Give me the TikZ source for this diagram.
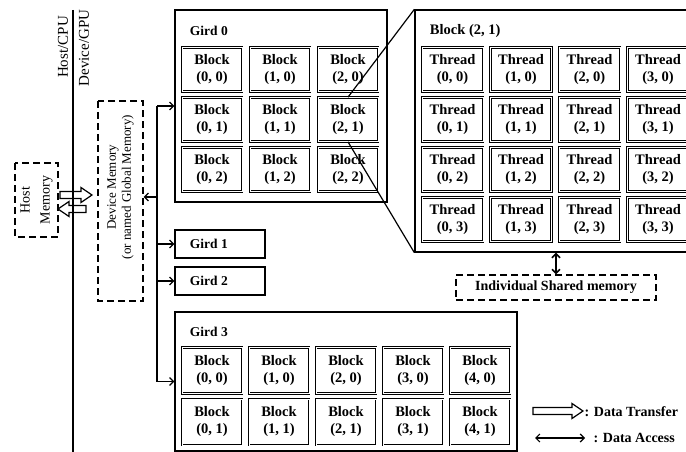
\documentclass[tikz,border=0pt]{standalone}
\usepackage{fontspec}
\setmainfont{Liberation Serif}
\usetikzlibrary{arrows.meta,positioning,calc}

\begin{document}
\begin{tikzpicture}[
    x=1pt, y=-1pt,
    line width=1.2pt,
    frame/.style={rectangle,draw,line width=1.3pt,inner sep=0pt},
    unit/.style={rectangle,draw,double,double distance=1pt,line width=0.7pt,
                 align=center,inner sep=0pt,minimum width=60pt,minimum height=44pt,
                 font=\fontsize{14.5}{17}\selectfont\bfseries},
    mem/.style={rectangle,draw,dash pattern=on 7pt off 4pt,line width=1.2pt,
                align=center,inner sep=0pt},
    lbl/.style={anchor=west,inner sep=0pt,font=\fontsize{13.5}{15}\selectfont\bfseries},
    side/.style={rotate=90,inner sep=0pt,align=center},
    acc/.style={-{Straight Barb[length=4pt,width=8pt]}},
    both/.style={{Straight Barb[length=4pt,width=8pt]}-{Straight Barb[length=4pt,width=8pt]}},
    % hollow transfer arrow, #1 = total length
    pics/fat/.style={code={
      \draw[line width=1.2pt,line join=miter]
        (0,-3.5) -- (#1-11,-3.5) -- (#1-11,-7.5) -- (#1,0) -- (#1-11,7.5)
        -- (#1-11,3.5) -- (0,3.5) -- cycle;}}
  ]
    \clip (0,0) rectangle (686,452);

    % host / device split
    \draw (73,10) -- (73,452);
    \node[side,font=\fontsize{15}{15}\selectfont] (cpu) at (63,47) {Host/CPU};
    \node[side,font=\fontsize{15}{15}\selectfont] (gpu) at (84,48) {Device/GPU};

    \node[mem,rotate=90,minimum width=74pt,minimum height=43pt,font=\fontsize{14}{20}\selectfont]
      (hmem) at (36.5,200) {Host\\Memory};
    \node[mem,rotate=90,minimum width=200pt,minimum height=45pt] (dmem) at (120.5,201) {};
    \node[side,font=\fontsize{13}{15}\selectfont] (dmemtxt) at ($(dmem.center)+(0,-14)$)
      {Device Memory\\(or named Global Memory)};

    % transfers between host and device memory
    \pic at (60,195) {fat=32};
    \pic[rotate=180] at (86,209) {fat=28};

    % grid 0
    \node[frame,minimum width=212pt,minimum height=192pt] (g0) at (281,106) {};
    \node[lbl] at ($(g0.north west)+(15,22)$) {Gird 0};
    \foreach \i in {0,1,2}
      \foreach \j in {0,1,2}
        \node[unit] (g0b\i\j) at ({212+68*\i},{69.5+50*\j}) {Block\\(\i, \j)};

    % block (2,1) opened up
    \node[frame,minimum width=285pt,minimum height=242pt] (blk) at (557.5,131) {};
    \node[lbl,font=\fontsize{14.5}{15}\selectfont\bfseries] at ($(blk.north west)+(15,22)$) {Block (2, 1)};
    \foreach \i in {0,...,3}
      \foreach \j in {0,...,3}
        \node[unit,minimum width=61pt] (t\i\j) at ({452.5+68.5*\i},{69.5+50*\j}) {Thread\\(\i, \j)};
    \draw (g0b21.north) -- (blk.north west);
    \draw (g0b21.south) -- (blk.south west);

    \node[mem,minimum width=200pt,minimum height=25pt,font=\fontsize{14}{15}\selectfont\bfseries]
      (smem) at (556,287.5) {Individual Shared memory};
    \draw[both,line width=1.6pt] (smem.north) -- (smem.north |- blk.south);

    % grids 1 and 2
    \node[frame,minimum width=90pt,minimum height=28pt] (g1) at (220,244) {};
    \node[lbl] at ($(g1.west)+(15,0)$) {Gird 1};
    \node[frame,minimum width=90pt,minimum height=28pt] (g2) at (220,281) {};
    \node[lbl] at ($(g2.west)+(15,0)$) {Gird 2};

    % grid 3
    \node[frame,minimum width=342pt,minimum height=139pt] (g3) at (346,381.5) {};
    \node[lbl] at ($(g3.north west)+(15,21)$) {Gird 3};
    \foreach \i in {0,...,4}
      \foreach \j in {0,1}
        \node[unit,minimum height=46pt] (g3b\i\j) at ({212+67*\i},{370.5+51.5*\j}) {Block\\(\i, \j)};

    % access bus
    \coordinate (bus) at (157,0);
    \draw (bus |- g0.west) -- (bus |- g3.west);
    \foreach \g in {g0,g1,g2,g3}
      \draw[acc] (bus |- \g.west) -- (\g.west);
    \coordinate (dacc) at ($(dmem.south)+(0,-4)$);
    \draw[acc] (bus |- dacc) -- (dacc);

    % legend
    \pic at (533,411) {fat=50};
    \node[lbl,font=\fontsize{14}{15}\selectfont\bfseries] (keyxt) at (584,412) {: Data Transfer};
    \coordinate (ka) at (535,438);
    \coordinate (kb) at (585,438);
    \draw[both] (ka) -- (kb);
    \node[lbl,font=\fontsize{14}{15}\selectfont\bfseries] (keyat) at (593,438) {: Data Access};
\end{tikzpicture}
\end{document}
